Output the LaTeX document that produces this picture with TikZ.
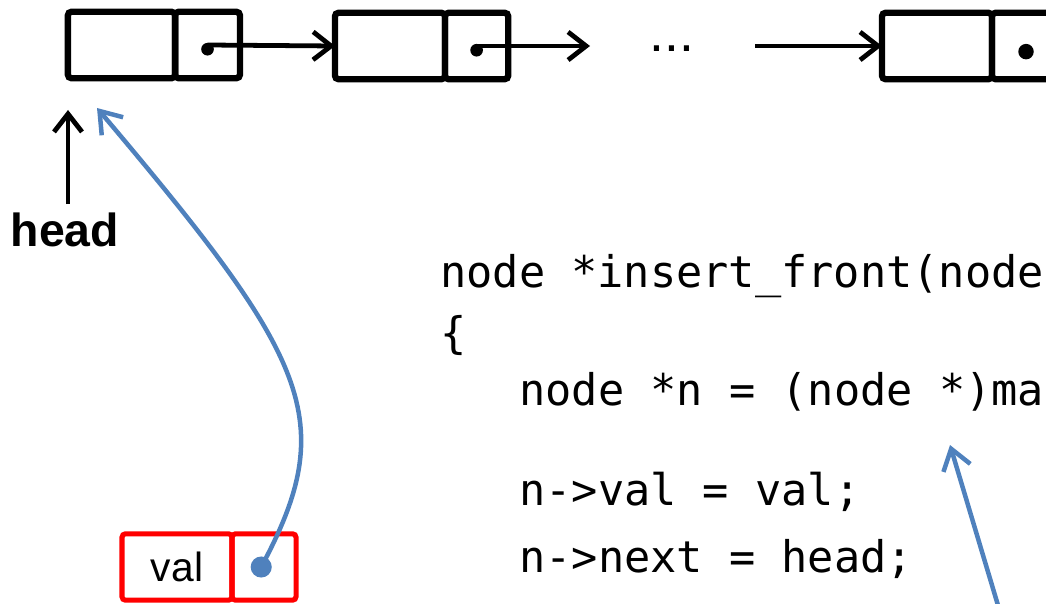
\documentclass[tikz,border=0pt]{standalone}
\usepackage{fontspec}
\setsansfont{Liberation Sans}
\setmonofont{DejaVu Sans Mono}
\usepackage{xcolor}
\usetikzlibrary{positioning, arrows.meta, calc}

\definecolor{ptrblue}{RGB}{79,129,189}

\begin{document}
\begin{tikzpicture}[x=0.025cm, y=-0.025cm,
          cell/.style={draw, line width=4.5pt, rounded corners=2.5pt, outer sep=0pt, inner sep=0pt,
                       minimum height=1.66cm, minimum width=#1},
          newcell/.style={cell=#1, draw=red, line width=3.6pt},
          link/.style={-{Straight Barb[length=4.5mm, width=7mm]}, line width=3.4pt},
          blink/.style={-{Straight Barb[length=5mm, width=7mm]}, line width=3.2pt, draw=ptrblue},
          code/.style={anchor=base west, font=\fontsize{31}{36}\selectfont\ttfamily, inner sep=0pt},
        ]
        \useasboundingbox (0,0) rectangle (1046,604);
        \clip (0,0) rectangle (1046,604);
        % the list
        \node[cell=2.68cm] (n1) at (121.5,45) {};
        \node[cell=1.62cm, right=0pt of n1] (p1) {};
        \node[cell=2.75cm] (n2) at (390,46) {};
        \node[cell=1.58cm, right=0pt of n2] (p2) {};
        \node[cell=2.75cm] (n3) at (937,46) {};
        \node[cell=1.7cm, right=0pt of n3] (p3) {};
        \node[font=\fontsize{38}{38}\selectfont\sffamily] (dots) at (672,49) {...};
        \coordinate (end2) at (590,46);
        \coordinate (start3) at (755,46);
        \fill ([yshift=-3pt]p1.center) circle (4.5pt);
        \fill ([yshift=-3pt]p2.center) circle (4.5pt);
        \fill ([yshift=-4pt]p3.center) circle (5.5pt);
        \draw[link] (p1.center) -- (n2.west);
        \draw[link] (p2.center) -- (end2);
        \draw[link] (start3) -- (n3.west);
        % head pointer
        \node[font=\fontsize{33}{33}\selectfont\sffamily\bfseries, inner sep=0pt] (head) at (65,230) {head};
        \coordinate (headtip) at (68,110);
        \draw[link, shorten <=6pt] (head.north -| headtip) -- (headtip);
        % the new node
        \node[newcell=2.75cm] (nv) at (177,567) {};
        \node[newcell=1.6cm, right=0pt of nv] (pv) {};
        \node[font=\fontsize{29}{29}\selectfont\sffamily] at (nv.center) {val};
        \coordinate (front) at (97,108);
        \fill[ptrblue] ([xshift=-2pt]pv.center) circle (7.5pt);
        \draw[blink] ([xshift=-2pt]pv.center) .. controls (340,420) and (310,360) .. (front);
        % code
        \node[code] (l1) at (440,287) {node *insert\_front(node};
        \node[code] (l2) at (440,348) {\{};
        \node[code] (l3) at (519,405) {node *n = (node *)ma};
        \node[code] (l4) at (519,505) {n->val = val;};
        \node[code] (l5) at (519,572) {n->next = head;};
        \coordinate (mtail) at (1000,612);
        \coordinate (mtip) at (950,445);
        \draw[blink] (mtail) -- (mtip);
        \end{tikzpicture}
\end{document}
